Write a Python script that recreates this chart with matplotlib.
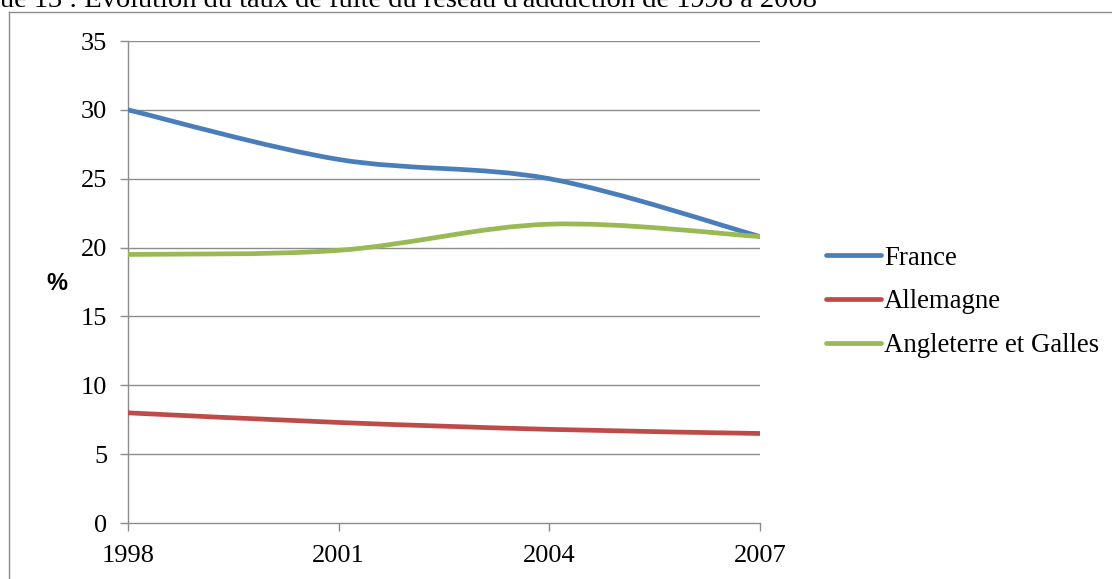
import matplotlib
matplotlib.use("Agg")
import matplotlib.pyplot as plt
from matplotlib.path import Path
from matplotlib.patches import PathPatch
from matplotlib.lines import Line2D
import numpy as np

annees = [1998, 2001, 2004, 2007]
france = [30.0, 26.4, 25.0, 20.8]
allemagne = [8.0, 7.3, 6.8, 6.5]
angleterre = [19.5, 19.8, 21.7, 20.8]

series = ["France", "Allemagne", "Angleterre et Galles"]
couleurs = ["#4A7EBB", "#BE4B48", "#98B954"]
titre = "ue 13 : Évolution du taux de fuite du réseau d'adduction de 1998 à 2008"

serif = "Liberation Serif"


def courbe_lissee(x, y):
	# courbe lissée façon Excel (bezier, Catmull-Rom)
	pts = np.column_stack([x, y]).astype(float)
	n = len(pts)
	verts = [pts[0]]
	codes = [Path.MOVETO]
	for i in range(n - 1):
		p0 = pts[max(i - 1, 0)]
		p1 = pts[i]
		p2 = pts[i + 1]
		p3 = pts[min(i + 2, n - 1)]
		c1 = p1 + (p2 - p0) / 6
		c2 = p2 - (p3 - p1) / 6
		verts += [c1, c2, p2]
		codes += [Path.CURVE4] * 3
	return Path(verts, codes)


fig = plt.figure(figsize=(11.12, 5.79), dpi=100)
ax = fig.add_axes([128 / 1112, 1 - 523 / 579, (760 - 128) / 1112, (523 - 41) / 579])

gris = "#8C8C8C"
for v in range(5, 40, 5):
	ax.axhline(v, color=gris, lw=1.0, zorder=1)

handles = []
for nom, vals, c in zip(series, [france, allemagne, angleterre], couleurs):
	p = courbe_lissee(annees, vals)
	ax.add_patch(PathPatch(p, facecolor="none", edgecolor=c, lw=3.4, capstyle="round", zorder=3))
	handles.append(Line2D([], [], color=c, lw=3.4, solid_capstyle="round"))

ax.set_xlim(1998, 2007)
ax.set_ylim(0, 35)
ax.set_yticks(range(0, 40, 5))
ax.set_xticks(annees)

for s in ["top", "right"]:
	ax.spines[s].set_visible(False)
for s in ["left", "bottom"]:
	ax.spines[s].set_color(gris)
	ax.spines[s].set_linewidth(1.0)
ax.tick_params(axis="both", color=gris, width=1.0, length=6, direction="out")
ax.tick_params(axis="y", pad=9)
ax.tick_params(axis="x", pad=10)
for lab in ax.get_xticklabels() + ax.get_yticklabels():
	lab.set_fontfamily(serif)
	lab.set_fontsize(19)

fig.text(57 / 1112, 1 - 284 / 579, "%", fontfamily="Liberation Sans", fontweight="bold",
	fontsize=17, ha="center", va="center")

fig.legend(handles, series, loc="center left", bbox_to_anchor=(826 / 1112, 1 - 302 / 579),
	bbox_transform=fig.transFigure, frameon=False, borderpad=0, borderaxespad=0,
	handlelength=2.05, handletextpad=0.12, labelspacing=0.7,
	prop={"family": serif, "size": 19.3})

# cadre autour du graphique
fig.add_artist(Line2D([9 / 1112, 9 / 1112], [0, 1 - 12 / 579], color=gris, lw=1.0, transform=fig.transFigure))
fig.add_artist(Line2D([9 / 1112, 1], [1 - 12 / 579, 1 - 12 / 579], color=gris, lw=1.0, transform=fig.transFigure))

fig.text(0, 1 - 7 / 579, titre, fontfamily=serif, fontsize=20.5, ha="left", va="baseline")

fig.savefig("out.png", dpi=100)
